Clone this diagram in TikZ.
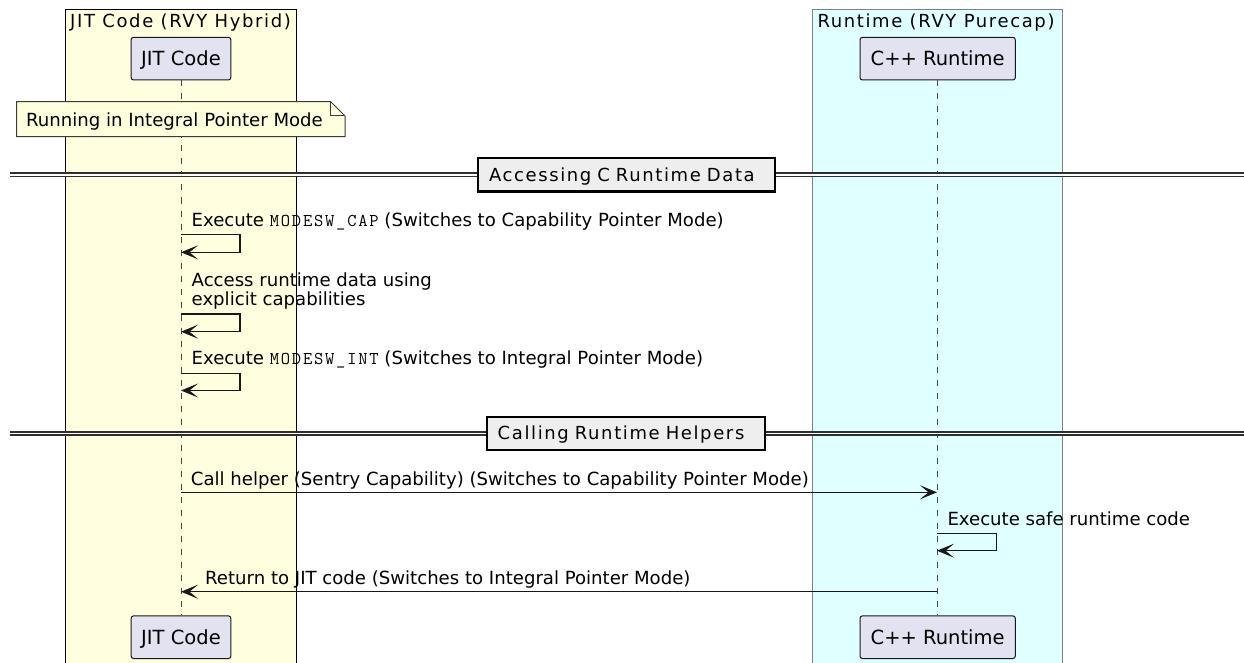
\documentclass[tikz,border=0pt]{standalone}
\usepackage{fontspec}
\setmainfont{DejaVu Sans}
\newfontfamily\monof[LetterSpace=10]{Latin Modern Mono}
\newfontfamily\spacedf[LetterSpace=9]{DejaVu Sans}
\usetikzlibrary{arrows.meta}
\definecolor{grpY}{HTML}{FFFFE0}
\definecolor{grpC}{HTML}{E0FFFF}
\definecolor{partF}{HTML}{E2E2F0}
\definecolor{lineC}{HTML}{181818}
\definecolor{noteF}{HTML}{FEFFDD}
\definecolor{divF}{HTML}{EEEEEE}
\newcommand{\mono}[1]{{\monof\fontsize{18}{20}\selectfont #1}}
\tikzset{
  msgfont/.style={font=\fontsize{18.1}{20}\selectfont},
  part/.style={draw=lineC, fill=partF, rounded corners=2.5pt, line width=1pt,
    minimum height=42.7pt, inner sep=0pt, text height=14pt, text depth=0pt,
    font=\fontsize{19.5}{22}\selectfont},
  life/.style={draw=lineC!80, line width=1pt, dash pattern=on 6pt off 7pt},
  msg/.style={draw=lineC, line width=1.5pt, -{Stealth[length=17pt,width=14pt,inset=8.5pt]}},
  lbl/.style={anchor=base west, inner sep=0pt, msgfont},
  grptitle/.style={anchor=base west, inner sep=0pt, font=\spacedf\fontsize{18}{20}\selectfont},
  dbl/.style={draw=lineC!90, line width=5pt, postaction={draw=white, line width=1.6pt}},
  divbox/.style={draw=black, fill=divF, line width=2.4pt, inner ysep=0pt, inner xsep=11pt,
    minimum height=33.4pt, text height=13.1pt, text depth=0pt, align=left,
    font=\spacedf\fontsize{18}{20}\selectfont},
}
\begin{document}
\begin{tikzpicture}[x=1pt,y=-1pt]
\useasboundingbox (0,0) rectangle (1244,663);
% groups
\draw[fill=grpY, draw=black, line width=1pt] (65,10) rectangle (296,680);
\draw[fill=grpC, draw=black!50, line width=1pt] (812.7,10) rectangle (1062,680);
\node[grptitle] (gjit) at (70,27.3) {JIT Code (RVY Hybrid)};
\node[grptitle] (grt) at (817.3,27.3) {Runtime (RVY Purecap)};
% participants
\node[part, minimum width=99.7pt] (jit) at (181,58.65) {JIT Code};
\node[part, minimum width=155.3pt] (rt) at (937.65,58.65) {C++ Runtime};
\node[part, minimum width=99.7pt] (jitb) at (181,637.2) {JIT Code};
\node[part, minimum width=155.3pt] (rtb) at (937.65,637.2) {C++ Runtime};
% lifelines
\draw[life] (jit.south -| 181,0) -- (jitb.north -| 181,0);
\draw[life] (rt.south -| 937,0) -- (rtb.north -| 937,0);
% note
\draw[fill=noteF, draw=lineC!85, line width=1pt] (16.5,101.7) -- (330.7,101.7) -- (345,116) -- (345,136.7) -- (16.5,136.7) -- cycle;
\draw[draw=lineC!85, line width=1pt] (330.7,101.7) -- (330.7,116) -- (345,116);
\node[lbl] (note) at (26,126.5) {Running in Integral Pointer Mode};
% divider 1
\draw[dbl] (10,175) -- (1244,175);
\node[divbox, text width=275pt] (div1) at (626.5,175) {Accessing C Runtime Data};
% self messages on JIT
\coordinate (s1a) at (181,234.3); \coordinate (s1b) at (181,252.3);
\draw[msg] (s1a) -- (240,234.3) |- (s1b);
\node[lbl] (m1) at (191.5,226.7) {Execute \mono{MODESW\_CAP} (Switches to Capability Pointer Mode)};
\coordinate (s2a) at (181,314); \coordinate (s2b) at (181,331.7);
\draw[msg] (s2a) -- (240,314) |- (s2b);
\node[lbl, align=left] (m2) at (191.5,305.5) {Access runtime data using\\[-0.5pt]explicit capabilities};
\coordinate (s3a) at (181,373.3); \coordinate (s3b) at (181,390.5);
\draw[msg] (s3a) -- (240,373.3) |- (s3b);
\node[lbl] (m3) at (191.5,364.3) {Execute \mono{MODESW\_INT} (Switches to Integral Pointer Mode)};
% divider 2
\draw[dbl] (10,433.5) -- (1244,433.5);
\node[divbox, text width=256.3pt, minimum height=33.3pt] (div2) at (625.85,433.4) {Calling Runtime Helpers};
% call
\coordinate (c1) at (181,492.3); \coordinate (c2) at (937,492.3);
\draw[msg] (c1) -- (c2);
\node[lbl] (m4) at (190.7,485) {Call helper (Sentry Capability) (Switches to Capability Pointer Mode)};
% self on runtime
\coordinate (r1a) at (937,533.3); \coordinate (r1b) at (937,550.7);
\draw[msg] (r1a) -- (996.7,533.3) |- (r1b);
\node[lbl] (m5) at (947.3,525) {Execute safe runtime code};
% return
\coordinate (c3) at (937,591.7); \coordinate (c4) at (181,591.7);
\draw[msg] (c3) -- (c4);
\node[lbl] (m6) at (205,584.3) {Return to JIT code (Switches to Integral Pointer Mode)};
\end{tikzpicture}
\end{document}
